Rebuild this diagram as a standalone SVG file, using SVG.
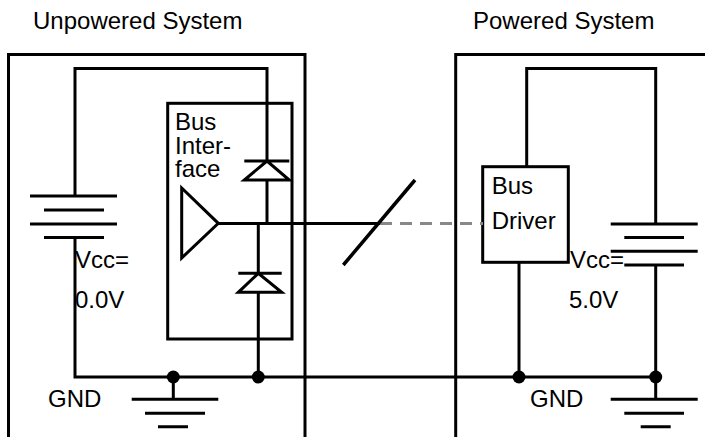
<svg xmlns="http://www.w3.org/2000/svg" width="705" height="437" viewBox="0 0 705 437">
<style>
.w{fill:none;stroke:#000;stroke-width:3;stroke-linecap:butt;stroke-linejoin:miter}
.t{font-family:"Liberation Sans",Arial,Helvetica,sans-serif;font-size:24px;fill:#000}
.dot{fill:#000}
.dash{fill:none;stroke:#888;stroke-width:3;stroke-dasharray:12 8}
</style>
<rect width="705" height="437" fill="#fff"/>
<g id="unpowered-system">
<path class="w" d="M8.5,440 V54.5 H305 V440"/>
<text class="t" x="33" y="29">Unpowered System</text>
</g>
<g id="powered-system">
<path class="w" d="M455.7,440 V54.5 H710"/>
<text class="t" x="473" y="29">Powered System</text>
</g>
<g id="bus-interface">
<rect class="w" x="167.7" y="103.3" width="124.3" height="235.7"/>
<text class="t"><tspan x="175" y="130">Bus</tspan><tspan x="175" y="153.5">Inter-</tspan><tspan x="175" y="177">face</tspan></text>
</g>
<g id="buffer">
<path class="w" d="M181.7,188 V258 L218.3,223.3 Z"/>
</g>
<g id="diode-upper">
<path class="w" d="M244.3,161 H289.3 M267,161 L244.3,180 H289.3 Z"/>
</g>
<g id="diode-lower">
<path class="w" d="M238.3,273.3 H281.7 M258.3,273.3 L238.3,292.3 H281.7 Z"/>
</g>
<g id="battery-left">
<path class="w" d="M30,196 H117 M44,210 H104 M30,224 H117 M44,237.5 H104"/>
<text class="t" x="75" y="268">Vcc=</text>
<text class="t" x="75" y="308">0.0V</text>
</g>
<g id="ground-left">
<path class="w" d="M173.3,377 V399.3 M131.7,399.3 H218.3 M145,413.3 H205 M158,426.7 H188"/>
<text class="t" x="48" y="407">GND</text>
</g>
<g id="bus-driver">
<rect class="w" x="482.7" y="166.7" width="85.6" height="95.6"/>
<text class="t"><tspan x="491.7" y="194">Bus</tspan><tspan x="491.7" y="229">Driver</tspan></text>
</g>
<g id="battery-right">
<path class="w" d="M610.7,224 H697.7 M624.3,237.5 H684 M610.7,251.3 H697.7 M624.3,265 H684"/>
<text class="t" x="570" y="268">Vcc=</text>
<text class="t" x="569" y="308">5.0V</text>
</g>
<g id="ground-right">
<path class="w" d="M655.7,377 V399.3 M610.7,399.3 H697.7 M624.3,413.3 H684 M640.7,426.7 H670.7"/>
<text class="t" x="530" y="407">GND</text>
</g>
<g id="connectors">
<path class="w" d="M75,196 V68.5 H267 V161"/>
<path class="w" d="M267,180 V223.5"/>
<path class="w" d="M75,237.5 V377 H655.7"/>
<path class="w" d="M258.3,223.5 V273.3 M258.3,292.3 V377"/>
<path class="w" d="M218.3,223.5 H380"/>
<path class="dash" d="M380,223.5 H483"/>
<path class="w" d="M526.7,166.7 V68.5 H655.7 V224"/>
<path class="w" d="M519,262.3 V377"/>
<path class="w" d="M655.7,265 V377"/>
<path class="w" d="M415,180 L343.3,265" style="stroke-width:3.5"/>
<circle class="dot" cx="173.3" cy="377" r="6.5"/>
<circle class="dot" cx="258.3" cy="377" r="6.5"/>
<circle class="dot" cx="519" cy="377" r="6.5"/>
<circle class="dot" cx="655.7" cy="377" r="6.5"/>
</g>
</svg>
